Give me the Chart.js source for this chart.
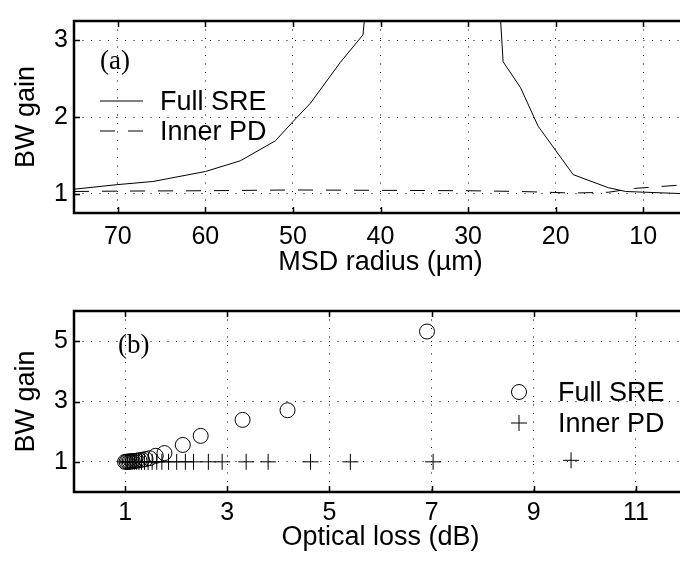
<!DOCTYPE html>
<html>
<head>
<meta charset="utf-8">
<script src="https://cdn.jsdelivr.net/npm/chart.js@4.4.0/dist/chart.umd.min.js"></script>
<style>
html, body { margin: 0; padding: 0; background: #fff; overflow: hidden; width: 680px; height: 567px; }
#wrap { position: relative; width: 680px; height: 567px; overflow: hidden; }
canvas { position: absolute; left: 0; }
#top { top: 0; }
#bottom { top: 290px; }
</style>
</head>
<body>
<div id="wrap">
  <canvas id="top" width="700" height="290"></canvas>
  <canvas id="bottom" width="700" height="277"></canvas>
</div>
<script>
"use strict";

// (a) BW gain against MSD radius
var radiusFull = [75, 70, 66, 60, 56, 52, 50, 48, 44.6, 42, 40, 34, 28, 26, 24, 22, 18, 14, 12, 5];
var gainFull   = [1.06, 1.12, 1.16, 1.29, 1.43, 1.69, 1.94, 2.18, 2.71, 3.07, 5.5, 9, 6.5, 2.72, 2.38, 1.88, 1.25, 1.08, 1.03, 1.0];
var radiusInner = [75, 70, 60, 50, 40, 30, 24, 18, 14, 11, 8, 5];
var gainInner   = [1.03, 1.035, 1.04, 1.05, 1.045, 1.04, 1.03, 1.01, 1.02, 1.07, 1.095, 1.12];

// (b) BW gain against optical loss
var lossFull  = [1.0, 1.03, 1.06, 1.09, 1.12, 1.15, 1.19, 1.23, 1.28, 1.33, 1.40, 1.48, 1.6, 1.77, 2.13, 2.48, 3.30, 4.18, 6.91];
var gainFullB = [1.0, 1.0, 1.01, 1.01, 1.02, 1.02, 1.03, 1.04, 1.05, 1.07, 1.09, 1.12, 1.2, 1.29, 1.56, 1.86, 2.39, 2.71, 5.32];
var lossInner  = [1.02, 1.05, 1.08, 1.11, 1.14, 1.18, 1.22, 1.27, 1.32, 1.38, 1.45, 1.53, 1.62, 1.72, 1.85, 2.01, 2.18, 2.34, 2.63, 2.90, 3.37, 3.80, 4.63, 5.41, 7.03, 9.73];
var gainInnerB = [1.0, 1.0, 1.0, 1.0, 1.0, 1.0, 1.0, 1.0, 1.0, 1.0, 1.0, 1.0, 1.0, 1.0, 1.0, 1.0, 1.0, 1.0, 1.0, 1.0, 1.0, 1.0, 1.0, 1.0, 1.0, 1.05];

var radiusTicks = [70, 60, 50, 40, 30, 20, 10];
var gainTicksA  = [1, 2, 3];
var lossTicks   = [1, 3, 5, 7, 9, 11];
var gainTicksB  = [1, 3, 5];

var FONT = "'Liberation Sans', Arial, Helvetica, sans-serif";

function pairs(xs, ys) {
  return xs.map(function(x, i) { return {x: x, y: ys[i]}; });
}

function fixTicks(list) {
  return function(scale) {
    scale.ticks = list.map(function(v) { return {value: v}; });
  };
}

// box round the axes and inward tick marks
var framePlugin = {
  id: 'frame',
  afterDraw: function(chart) {
    var a = chart.chartArea, ctx = chart.ctx;
    var xs = chart.scales.x, ys = chart.scales.y;
    ctx.save();
    ctx.strokeStyle = '#000';
    ctx.lineWidth = 1.5;
    ctx.beginPath();
    xs.ticks.forEach(function(t) {
      var px = Math.round(xs.getPixelForValue(t.value)) + 0.5;
      ctx.moveTo(px, a.top); ctx.lineTo(px, a.top + 6);
      ctx.moveTo(px, a.bottom); ctx.lineTo(px, a.bottom - 6);
    });
    ys.ticks.forEach(function(t) {
      var py = Math.round(ys.getPixelForValue(t.value)) + 0.5;
      ctx.moveTo(a.left, py); ctx.lineTo(a.left + 6, py);
      ctx.moveTo(a.right, py); ctx.lineTo(a.right - 6, py);
    });
    ctx.stroke();
    ctx.lineWidth = 2.5;
    ctx.strokeRect(a.left, a.top, a.right - a.left, a.bottom - a.top);
    ctx.restore();
  }
};

// panel label and the key
var notePlugin = {
  id: 'note',
  afterDraw: function(chart, args, o) {
    var ctx = chart.ctx, a = chart.chartArea;
    ctx.save();
    ctx.fillStyle = '#000';
    ctx.strokeStyle = '#000';
    ctx.textBaseline = 'alphabetic';
    ctx.font = o.labelFont;
    ctx.fillText(o.label, a.left + o.labelX, a.top + o.labelY);
    ctx.font = o.font;
    chart.data.datasets.forEach(function(ds, i) {
      var cx = a.left + o.keyX, cy = a.top + o.keyY + i * o.keyGap;
      ctx.lineWidth = 1;
      ctx.beginPath();
      if (ds.showLine) {
        ctx.setLineDash(ds.borderDash || []);
        ctx.moveTo(cx - o.lineLen / 2, cy);
        ctx.lineTo(cx + o.lineLen / 2, cy);
      } else if (ds.pointStyle === 'circle') {
        ctx.arc(cx, cy, ds.pointRadius, 0, Math.PI * 2);
      } else {
        ctx.moveTo(cx - ds.pointRadius, cy); ctx.lineTo(cx + ds.pointRadius, cy);
        ctx.moveTo(cx, cy - ds.pointRadius); ctx.lineTo(cx, cy + ds.pointRadius);
      }
      ctx.stroke();
      ctx.setLineDash([]);
      ctx.fillText(ds.label, cx + o.textDx, cy + o.textDy);
    });
    ctx.restore();
  }
};

function axisX(min, max, ticks, title, rev, tickPad, titlePad, height) {
  return {
    type: 'linear', min: min, max: max, reverse: rev,
    afterBuildTicks: fixTicks(ticks),
    afterFit: function(s) { s.height = height; },
    grid: { color: '#000', lineWidth: 1, drawTicks: false },
    border: { display: false, dash: [1, 7.5] },
    ticks: { color: '#000', autoSkip: false, maxRotation: 0, padding: tickPad, font: { family: FONT, size: 25 } },
    title: { display: true, text: title, color: '#000', padding: { top: 0, bottom: titlePad }, font: { family: FONT, size: 27 } }
  };
}

function axisY(min, max, ticks) {
  return {
    type: 'linear', min: min, max: max,
    afterBuildTicks: fixTicks(ticks),
    afterFit: function(s) { s.width = 74; },
    grid: { color: '#000', lineWidth: 1, drawTicks: false },
    border: { display: false, dash: [1, 7.5] },
    ticks: { color: '#000', autoSkip: false, padding: 6, font: { family: FONT, size: 25 } },
    title: { display: true, text: 'BW gain', color: '#000', padding: { top: 10, bottom: 0 }, font: { family: FONT, size: 27 } }
  };
}

new Chart(document.getElementById('top'), {
  type: 'scatter',
  data: {
    datasets: [{
      label: 'Full SRE',
      data: pairs(radiusFull, gainFull),
      showLine: true, borderColor: '#000', borderWidth: 1, pointRadius: 0, fill: false
    }, {
      label: 'Inner PD',
      data: pairs(radiusInner, gainInner),
      showLine: true, borderColor: '#000', borderWidth: 1, borderDash: [15, 13], pointRadius: 0, fill: false
    }]
  },
  options: {
    responsive: false, animation: false,
    layout: { padding: { top: 2, right: 13, left: 0, bottom: 0 } },
    scales: {
      x: axisX(5, 75, radiusTicks, 'MSD radius (\u00b5m)', true, 9, 11.5, 77),
      y: axisY(0.75, 3.25, gainTicksA)
    },
    plugins: {
      legend: { display: false }, tooltip: { enabled: false },
      note: { label: '(a)', labelFont: "27px 'Liberation Serif', 'Times New Roman', serif", labelX: 26, labelY: 48,
              font: '27px ' + FONT, keyX: 47.5, keyY: 80, keyGap: 30, lineLen: 43, textDx: 38.5, textDy: 9 }
    }
  },
  plugins: [framePlugin, notePlugin]
});

new Chart(document.getElementById('bottom'), {
  type: 'scatter',
  data: {
    datasets: [{
      label: 'Full SRE',
      data: pairs(lossFull, gainFullB),
      pointStyle: 'circle', pointRadius: 7.5, borderColor: '#000', backgroundColor: 'rgba(0,0,0,0)', borderWidth: 1
    }, {
      label: 'Inner PD',
      data: pairs(lossInner, gainInnerB),
      pointStyle: 'cross', pointRadius: 8, borderColor: '#000', borderWidth: 1
    }]
  },
  options: {
    responsive: false, animation: false,
    layout: { padding: { top: 13, right: 13, left: 0, bottom: 0 } },
    scales: {
      x: axisX(0, 12, lossTicks, 'Optical loss (dB)', false, 6.5, 13.5, 75),
      y: axisY(0, 6, gainTicksB)
    },
    plugins: {
      legend: { display: false }, tooltip: { enabled: false },
      note: { label: '(b)', labelFont: "27px 'Liberation Serif', 'Times New Roman', serif", labelX: 44, labelY: 42,
              font: '27px ' + FONT, keyX: 445, keyY: 81, keyGap: 31, lineLen: 0, textDx: 39, textDy: 9 }
    }
  },
  plugins: [framePlugin, notePlugin]
});
</script>
</body>
</html>
